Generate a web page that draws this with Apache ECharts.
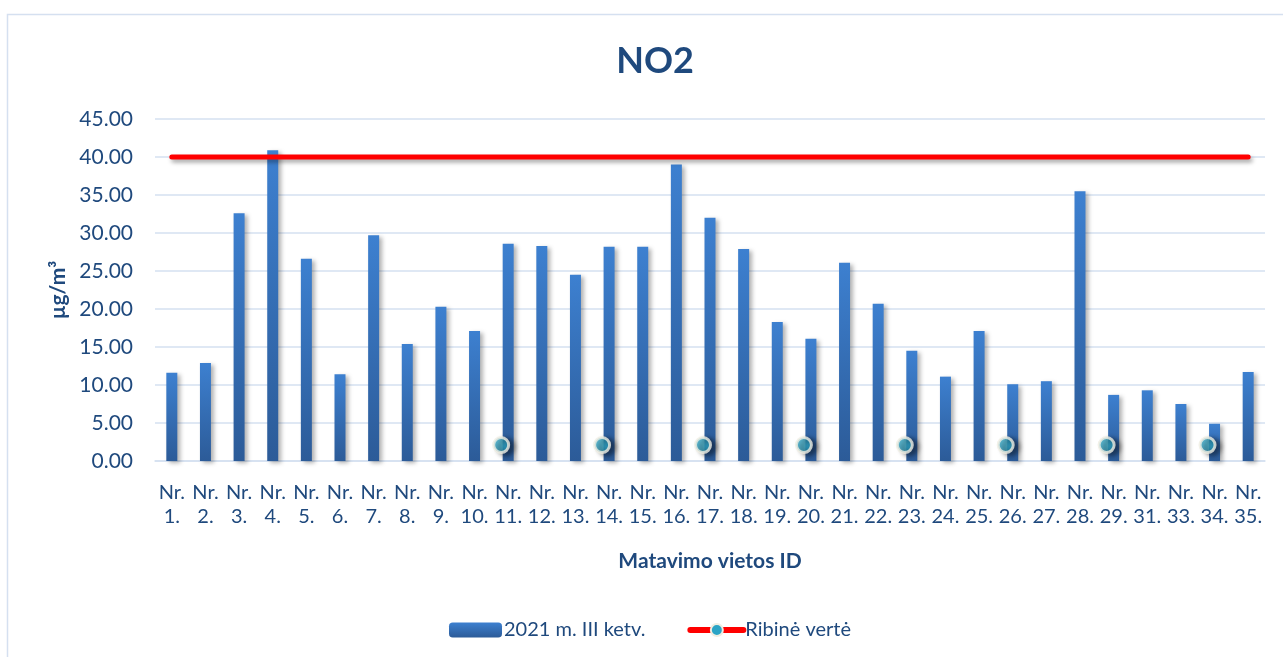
<!DOCTYPE html>
<html>
<head>
<meta charset="utf-8">
<script src="https://cdn.jsdelivr.net/npm/echarts@6/dist/echarts.min.js"></script>
<style>
html,body{margin:0;padding:0;background:#fff;}
#chart{width:1283px;height:657px;}
</style>
</head>
<body>
<div id="chart"></div>
<script>
const categories = ["Nr. 1.","Nr. 2.","Nr. 3.","Nr. 4.","Nr. 5.","Nr. 6.","Nr. 7.","Nr. 8.","Nr. 9.","Nr. 10.","Nr. 11.","Nr. 12.","Nr. 13.","Nr. 14.","Nr. 15.","Nr. 16.","Nr. 17.","Nr. 18.","Nr. 19.","Nr. 20.","Nr. 21.","Nr. 22.","Nr. 23.","Nr. 24.","Nr. 25.","Nr. 26.","Nr. 27.","Nr. 28.","Nr. 29.","Nr. 31.","Nr. 33.","Nr. 34.","Nr. 35."];
const values2021Q3 = [11.6,12.9,32.6,40.9,26.6,11.4,29.7,15.4,20.3,17.1,28.6,28.3,24.5,28.2,28.2,39.0,32.0,27.9,18.3,16.1,26.1,20.7,14.5,11.1,17.1,10.1,10.5,35.5,8.7,9.3,7.5,4.9,11.7];
const limitValues = [40,40,40,40,40,40,40,40,40,40,40,40,40,40,40,40,40,40,40,40,40,40,40,40,40,40,40,40,40,40,40,40,40];
const markerValues = [null,null,null,null,null,null,null,null,null,null,2.1,null,null,2.1,null,null,2.1,null,null,2.1,null,null,2.1,null,null,2.1,null,null,2.1,null,null,2.1,null];
const yTicks = {min:0, max:45, interval:5};
const seriesNames = ["2021 m. III ketv.", "Ribinė vertė"];

const txt = '#1F497D';
const font = 'Lato';
const chart = echarts.init(document.getElementById('chart'), null, {renderer:'canvas'});
chart.setOption({
  animation:false,
  backgroundColor:'#fff',
  graphic:[{type:'rect', shape:{x:7.5,y:14.5,width:1300,height:700}, style:{fill:'none', stroke:'#d5e0f0', lineWidth:1.5}, silent:true, z:-1}],
  title:{text:'NO2', left:650, top:38, textAlign:'center', textStyle:{color:txt, fontFamily:font, fontWeight:'bold', fontSize:36}},
  grid:{left:155, right:18, top:119, bottom:196, containLabel:false},
  legend:{
    left:444, top:615, itemWidth:53, itemHeight:15, itemGap:42,
    data:seriesNames,
    lineStyle:{width:6, cap:'round'},
    textStyle:{color:txt, fontFamily:font, fontSize:20, padding:[0,0,0,-3]}
  },
  xAxis:{
    type:'category', data:categories,
    axisLine:{show:true, lineStyle:{color:'#d5e0f0', width:1.5}},
    axisTick:{show:false},
    axisLabel:{interval:0, margin:20, color:txt, fontFamily:font, fontSize:20, lineHeight:24,
      formatter:function(v){return v.replace(' ', '\n');}},
    name:'Matavimo vietos ID', nameLocation:'middle', nameGap:90,
    nameTextStyle:{color:txt, fontFamily:font, fontWeight:'bold', fontSize:21}
  },
  yAxis:{
    type:'value', min:yTicks.min, max:yTicks.max, interval:yTicks.interval,
    axisLine:{show:false}, axisTick:{show:false},
    splitLine:{lineStyle:{color:'#d5e0f0', width:1.5}},
    axisLabel:{margin:22, color:txt, fontFamily:font, fontSize:21, formatter:function(v){return v.toFixed(2);}},
    name:'µg/m³', nameLocation:'middle', nameGap:86, nameRotate:90,
    nameTextStyle:{color:txt, fontFamily:font, fontWeight:'bold', fontSize:21}
  },
  series:[
    {
      name:seriesNames[0], type:'bar', data:values2021Q3, barWidth:11,
      itemStyle:{
        color:new echarts.graphic.LinearGradient(0,0,0,1,[{offset:0,color:'#3d80d0'},{offset:1,color:'#2c5b98'}]),
        shadowColor:'rgba(0,0,0,0.3)', shadowBlur:4, shadowOffsetX:3, shadowOffsetY:2
      },
      z:2
    },
    {
      name:seriesNames[1], type:'line', data:limitValues, showSymbol:false,
      symbol:'circle', symbolSize:12,
      lineStyle:{color:'#ff0000', width:5, cap:'round', shadowColor:'rgba(0,0,0,0.35)', shadowBlur:4, shadowOffsetX:2, shadowOffsetY:3},
      itemStyle:{color:'#2aa4c6', borderColor:'#efeee2', borderWidth:2},
      z:3
    },
    {
      name:'markers', type:'scatter', data:markerValues, symbol:'circle', symbolSize:15,
      symbolOffset:[-7,0],
      itemStyle:{
        color:new echarts.graphic.RadialGradient(0.45,0.4,0.6,[{offset:0,color:'#3cb6d6'},{offset:1,color:'#2293b5'}]),
        borderColor:'#efeee2', borderWidth:3,
        shadowColor:'rgba(0,0,0,0.5)', shadowBlur:5, shadowOffsetX:5, shadowOffsetY:2
      },
      z:4
    }
  ]
});
</script>
</body>
</html>
